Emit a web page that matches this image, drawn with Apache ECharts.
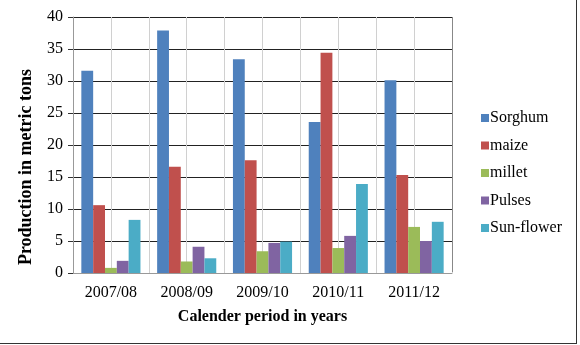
<!DOCTYPE html>
<html><head><meta charset="utf-8">
<script src="https://cdn.jsdelivr.net/npm/echarts@6/dist/echarts.min.js"></script>
<style>html,body{margin:0;padding:0;background:#fff}#c{width:580px;height:345px}</style>
</head><body><div id="c"></div>
<script>
const categories = ['2007/08','2008/09','2009/10','2010/11','2011/12'];
const seriesNames = ['Sorghum','maize','millet','Pulses','Sun-flower'];
const sorghum = [31.6, 37.9, 33.4, 23.6, 30.1];
const maize = [10.6, 16.6, 17.6, 34.4, 15.3];
const millet = [0.8, 1.8, 3.4, 3.9, 7.2];
const pulses = [1.9, 4.1, 4.7, 5.8, 5.0];
const sunflower = [8.3, 2.3, 4.9, 13.9, 8.0];
const colors = ['#4F81BD','#C0504D','#9BBB59','#8064A2','#4BACC6'];
const values = [sorghum, maize, millet, pulses, sunflower];
const yTitle = 'Production in metric tons';
const xTitle = 'Calender period in years';
const font = "Liberation Serif";

const chart = echarts.init(document.getElementById('c'));
chart.setOption({
  animation:false,
  color: colors,
  textStyle:{fontFamily:font},
  grid:{left:73, right:128, top:17, bottom:72},
  legend:{
    orient:'vertical', left:476, top:105, itemWidth:8, itemHeight:8, itemGap:11.5,
    icon:'rect',
    textStyle:{fontFamily:font, fontSize:16, color:'#000', padding:[0,0,0,-4]},
    data: seriesNames
  },
  xAxis:[{
    type:'category', data:categories,
    axisLine:{lineStyle:{color:'#999'}},
    axisTick:{show:false},
    axisLabel:{color:'#000', fontSize:16, fontFamily:font, margin:12},
    splitLine:{show:false},
    name:xTitle, nameLocation:'middle', nameGap:36,
    nameTextStyle:{fontWeight:'bold', fontSize:16, color:'#000', fontFamily:font}
  },{
    type:'value', min:0, max:10, interval:1, position:'top',
    axisLine:{show:false}, axisTick:{show:false}, axisLabel:{show:false},
    splitLine:{show:true, lineStyle:{color:'#d0d0d0', width:1}}
  }],
  yAxis:{
    type:'value', min:0, max:40, interval:5,
    axisLine:{show:true, lineStyle:{color:'#999'}},
    axisTick:{show:true, length:5, lineStyle:{color:'#333'}},
    axisLabel:{color:'#000', fontSize:16, fontFamily:font, margin:10},
    splitLine:{lineStyle:{color:'#222', width:1}}
  },
  series: seriesNames.map((n,i)=>({
    name:n, type:'bar', xAxisIndex:0, data:values[i],
    barGap:'0%', barCategoryGap:'22%', z:3
  })),
  graphic:[
    {type:'text', x:26, y:167, rotation:Math.PI/2,
     style:{text:yTitle, align:'center', verticalAlign:'middle', fill:'#000',
            font:"bold 18px 'Liberation Serif'"}},
    {type:'rect', shape:{x:452, y:17, width:1, height:255}, style:{fill:'#888'}, z:5},
    {type:'rect', shape:{x:576, y:0, width:1, height:344}, style:{fill:'#333'}},
    {type:'rect', shape:{x:0, y:343, width:577, height:1}, style:{fill:'#333'}}
  ]
});
</script></body></html>
